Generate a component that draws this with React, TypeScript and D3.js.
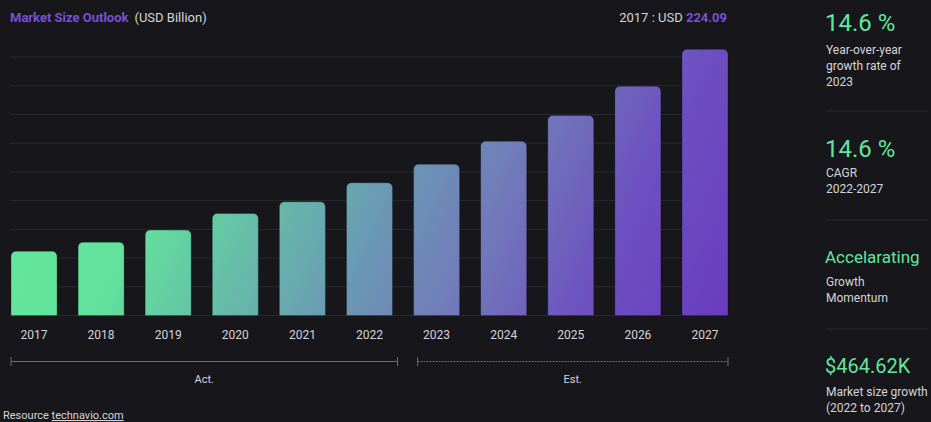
import React from "react";
import * as d3 from "d3";

const years = ["2017", "2018", "2019", "2020", "2021", "2022", "2023", "2024", "2025", "2026", "2027"];
const marketSize = [224.09, 255.7, 297.5, 355.6, 396.0, 462.3, 527.0, 607.0, 696.6, 798.5, 926.9];
const gridValues = [0, 100, 200, 300, 400, 500, 600, 700, 800, 900];
const actualYears = ["2017", "2022"];
const estimateYears = ["2023", "2027"];
const kpiTitles = ["14.6 %", "14.6 %", "Accelarating", "$464.62K"];
const kpiLines = [
  ["Year-over-year", "growth rate of", "2023"],
  ["CAGR", "2022-2027"],
  ["Growth", "Momentum"],
  ["Market size growth", "(2022 to 2027)"],
];

const W = 931;
const H = 422;
const FONT = "Roboto, 'Liberation Sans', sans-serif";
const BG = "#17171b";
const GRID = "#2a2b31";
const GREEN = "#62e69b";
const PURPLE = "#7a4fd8";
const TEXT = "#d4d4d8";

function topRoundedRect(x: number, y: number, w: number, h: number, r: number) {
  const p = d3.path();
  p.moveTo(x, y + h);
  p.lineTo(x, y + r);
  p.arcTo(x, y, x + r, y, r);
  p.lineTo(x + w - r, y);
  p.arcTo(x + w, y, x + w, y + r, r);
  p.lineTo(x + w, y + h);
  p.closePath();
  return p.toString();
}

export default function App() {
  const x = d3.scaleBand<string>().domain(years).range([11, 728]).paddingInner(0.314).paddingOuter(0);
  const y = d3.scaleLinear().domain([0, 900]).range([315.6, 57]);
  const bw = x.bandwidth();

  const act = [x(actualYears[0])!, x(actualYears[1])! + bw + 5];
  const est = [x(estimateYears[0])! + 4, x(estimateYears[1])! + bw];
  const bracketY = 361.5;

  const kpiTitleY = [31, 157, 263, 373];
  const kpiTitleSize = [24, 24, 17, 20];
  const kpiLineStart = [53.5, 176.5, 286, 395.5];
  const sepY = [111, 220, 329];

  return (
    <svg
      width={W}
      height={H}
      style={{ position: "fixed", top: 0, left: 0, background: BG, fontFamily: FONT }}
    >
      <defs>
        <linearGradient id="barGrad" gradientUnits="userSpaceOnUse" x1={80} y1={150} x2={680} y2={420}>
          <stop offset="0" stopColor="#62e69b" />
          <stop offset="0.12" stopColor="#62e29c" />
          <stop offset="0.45" stopColor="#6a9ab4" />
          <stop offset="0.62" stopColor="#7279ba" />
          <stop offset="0.8" stopColor="#6d50c0" />
          <stop offset="1" stopColor="#6a3cc0" />
        </linearGradient>
      </defs>
      <rect width={W} height={H} fill={BG} />

      {/* title */}
      <text x={10} y={22} fontSize={13} fontWeight={700} fill={PURPLE}>
        Market Size Outlook
        <tspan dx={6} fontWeight={400} fill={TEXT}>(USD Billion)</tspan>
      </text>
      <text x={727} y={22} fontSize={13} textAnchor="end" fill={TEXT}>
        2017 : USD <tspan fontWeight={700} fill={PURPLE}>{marketSize[0].toFixed(2)}</tspan>
      </text>

      {/* grid */}
      {gridValues.map((g) => (
        <line key={g} x1={10} x2={728} y1={y(g)} y2={y(g)} stroke={GRID} strokeWidth={1} />
      ))}

      {/* bars */}
      {years.map((yr, i) => {
        const top = y(marketSize[i]);
        return (
          <path
            key={yr}
            d={topRoundedRect(x(yr)!, top, bw, y(0) - top, 5)}
            fill="url(#barGrad)"
            stroke="rgba(0,0,0,0.25)"
            strokeWidth={1}
          />
        );
      })}

      {/* x labels */}
      {years.map((yr) => (
        <text key={yr} x={x(yr)! + bw / 2} y={339} fontSize={12} textAnchor="middle" fill={TEXT}>
          {yr}
        </text>
      ))}

      {/* brackets */}
      <g stroke="#6b6b72" strokeWidth={1}>
        <line x1={act[0]} x2={act[1]} y1={bracketY} y2={bracketY} />
        <line x1={act[0]} x2={act[0]} y1={bracketY - 4.5} y2={bracketY + 4.5} />
        <line x1={act[1]} x2={act[1]} y1={bracketY - 4.5} y2={bracketY + 4.5} />
        <line x1={est[0]} x2={est[1]} y1={bracketY} y2={bracketY} strokeDasharray="2 1" />
        <line x1={est[0]} x2={est[0]} y1={bracketY - 4.5} y2={bracketY + 4.5} />
        <line x1={est[1]} x2={est[1]} y1={bracketY - 4.5} y2={bracketY + 4.5} />
      </g>
      <text x={(act[0] + act[1]) / 2} y={383} fontSize={11} textAnchor="middle" fill={TEXT}>Act.</text>
      <text x={(est[0] + est[1]) / 2} y={383} fontSize={11} textAnchor="middle" fill={TEXT}>Est.</text>

      {/* footer */}
      <text x={3} y={419} fontSize={11} fill={TEXT}>
        Resource <tspan textDecoration="underline">technavio.com</tspan>
      </text>

      {/* KPI panel */}
      {sepY.map((s) => (
        <line key={s} x1={826} x2={928} y1={s} y2={s} stroke={GRID} strokeWidth={1} />
      ))}
      {kpiTitles.map((t, i) => (
        <g key={i}>
          <text x={825} y={kpiTitleY[i]} fontSize={kpiTitleSize[i]} fontWeight={400} fill={GREEN}>
            {t}
          </text>
          {kpiLines[i].map((l, j) => (
            <text key={j} x={826} y={kpiLineStart[i] + j * 16} fontSize={12} fill={TEXT}>
              {l}
            </text>
          ))}
        </g>
      ))}
    </svg>
  );
}
